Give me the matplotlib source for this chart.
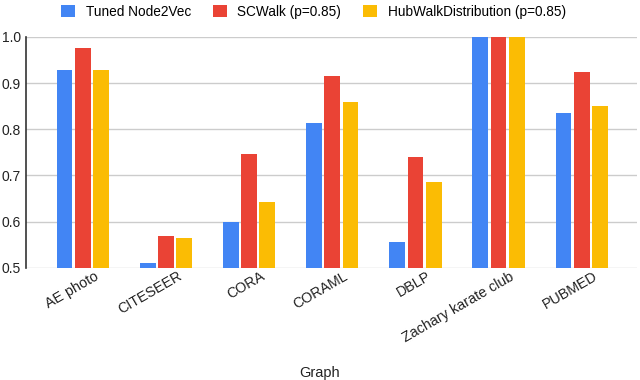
import numpy as np
import matplotlib
matplotlib.use('Agg')
import matplotlib.pyplot as plt
from matplotlib.transforms import ScaledTranslation

# data
graphs = ['AE photo', 'CITESEER', 'CORA', 'CORAML', 'DBLP', 'Zachary karate club', 'PUBMED']
node2vec = [0.928, 0.510, 0.600, 0.814, 0.555, 1.0, 0.836]
scwalk = [0.975, 0.568, 0.746, 0.916, 0.741, 1.0, 0.923]
hubwalk = [0.928, 0.565, 0.642, 0.858, 0.686, 1.0, 0.851]
series_names = ['Tuned Node2Vec', 'SCWalk (p=0.85)', 'HubWalkDistribution (p=0.85)']
colors = ['#4285F4', '#EA4335', '#FBBC04']

plt.rcParams['font.family'] = ['Liberation Sans', 'DejaVu Sans']

fig = plt.figure(figsize=(6.4, 3.8), dpi=100)
ax = fig.add_axes([0.041, 0.295, 0.955, 0.608])

x = np.arange(len(graphs))
w = 0.19
step = 0.22
for k, (vals, name, c) in enumerate(zip([node2vec, scwalk, hubwalk], series_names, colors)):
    ax.bar(x + (k - 1) * step, np.array(vals) - 0.5, w, bottom=0.5, color=c, label=name, zorder=3)

ax.set_ylim(0.5, 1.0)
ax.set_xlim(-0.68, 6.67)
ax.set_yticks([0.5, 0.6, 0.7, 0.8, 0.9, 1.0])
ax.set_yticklabels(['0.5', '0.6', '0.7', '0.8', '0.9', '1.0'], fontsize=10, color='#222222')
ax.set_xticks(x)
ax.set_xticklabels(graphs, rotation=30, ha='right', rotation_mode='anchor', fontsize=10.3, color='#222222')
ax.tick_params(axis='both', length=0, pad=4)
ax.tick_params(axis='x', pad=1)
# nudge the rotated labels to the right like the original
offset = ScaledTranslation(8 / 72, 0, fig.dpi_scale_trans)
for lbl in ax.get_xticklabels():
    lbl.set_transform(lbl.get_transform() + offset)
ax.grid(axis='y', color='#cccccc', linewidth=1, zorder=0)
for s in ['top', 'right', 'bottom']:
    ax.spines[s].set_visible(False)
ax.spines['left'].set_color('#333333')
ax.spines['left'].set_linewidth(1.2)

fig.text(0.5, 0.008, 'Graph', ha='center', fontsize=10.5, color='#222222')
fig.legend(loc='upper center', bbox_to_anchor=(0.49, 1.02), ncol=3, frameon=False,
           fontsize=9.8, handlelength=1.0, handleheight=1.0, columnspacing=1.6, handletextpad=0.8)

fig.savefig('out.png', dpi=100)
